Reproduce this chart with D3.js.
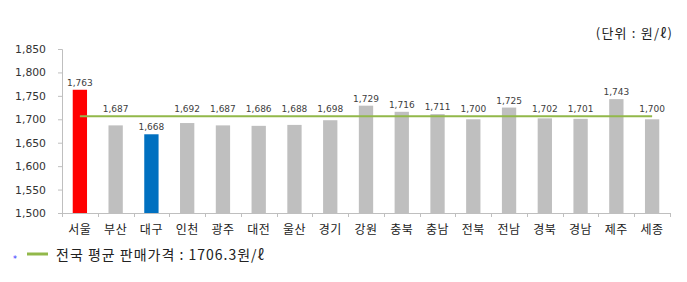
<html>
<head>
<meta charset="utf-8">
<style>
  body { margin: 0; background: #fff; }
  svg { display: block; }
  .tick text { font-family: "DejaVu Sans", sans-serif; }
</style>
</head>
<body>
<script src="https://d3js.org/d3.v7.min.js"></script>
<svg></svg>
<script>
// 지역별 판매가격 (원/ℓ)
var regions = ["서울","부산","대구","인천","광주","대전","울산","경기","강원","충북","충남","전북","전남","경북","경남","제주","세종"];
var prices  = [1763, 1687, 1668, 1692, 1687, 1686, 1688, 1698, 1729, 1716, 1711, 1700, 1725, 1702, 1701, 1743, 1700];
var average = 1706.3;
var yTicks  = [1500, 1550, 1600, 1650, 1700, 1750, 1800, 1850];
var highlight = { "서울": "#ff0000", "대구": "#0070c0" };

var W = 687, H = 282;
var plotL = 62, plotR = 670, plotT = 49, plotB = 213;

var svg = d3.select("svg").attr("width", W).attr("height", H);

var x = d3.scaleBand().domain(regions).range([plotL, plotR])
    .paddingInner(0.6).paddingOuter(0.3);
var y = d3.scaleLinear().domain([1500, 1850]).range([plotB, plotT]);

// y axis
var yAxis = svg.append("g")
    .attr("transform", "translate(" + plotL + ",0)")
    .call(d3.axisLeft(y).tickValues(yTicks).tickSize(4).tickPadding(12)
        .tickFormat(d3.format(",")));
yAxis.select(".domain").attr("stroke", "#bfbfbf");
yAxis.selectAll(".tick line").attr("stroke", "#bfbfbf");
yAxis.selectAll(".tick text").attr("font-size", 10.8).attr("fill", "#333");

// x axis baseline + boundary ticks
var gap = x.step() - x.bandwidth();
svg.append("line").attr("x1", plotL).attr("x2", plotR)
    .attr("y1", plotB + 0.5).attr("y2", plotB + 0.5).attr("stroke", "#bfbfbf");
var bounds = regions.map(function(d){ return x(d) - gap / 2; }).concat([plotR]);
svg.selectAll(".xtick").data(bounds).enter().append("line")
    .attr("class", "xtick")
    .attr("x1", function(d){ return Math.round(d) + 0.5; })
    .attr("x2", function(d){ return Math.round(d) + 0.5; })
    .attr("y1", plotB).attr("y2", plotB + 4).attr("stroke", "#bfbfbf");

svg.selectAll(".xlab").data(regions).enter().append("text")
    .attr("class", "xlab")
    .attr("x", function(d){ return x(d) + x.bandwidth() / 2; })
    .attr("y", 234)
    .attr("text-anchor", "middle")
    .attr("font-family", "'Noto Sans CJK KR', sans-serif")
    .attr("font-size", 12)
    .attr("letter-spacing", 0.5)
    .attr("fill", "#222")
    .text(function(d){ return d; });

// bars
svg.selectAll(".bar").data(prices).enter().append("rect")
    .attr("class", "bar")
    .attr("x", function(d, i){ return x(regions[i]); })
    .attr("width", x.bandwidth())
    .attr("y", function(d){ return y(d); })
    .attr("height", function(d){ return plotB - y(d); })
    .attr("fill", function(d, i){ return highlight[regions[i]] || "#bfbfbf"; });

// average line
var avgY = y(average);
svg.append("line")
    .attr("x1", x(regions[0]) + x.bandwidth() / 2)
    .attr("x2", x(regions[regions.length - 1]) + x.bandwidth() / 2)
    .attr("y1", avgY).attr("y2", avgY)
    .attr("stroke", "#92b84a").attr("stroke-width", 2);

// value labels (pushed above the average line when they would cross it)
svg.selectAll(".vlab").data(prices).enter().append("text")
    .attr("class", "vlab")
    .attr("x", function(d, i){ return x(regions[i]) + x.bandwidth() / 2; })
    .attr("y", function(d){
        var c = y(d) - 7;
        if (c > avgY - 7 && c < avgY + 7) c = avgY - 7;
        return c;
    })
    .attr("dy", "0.35em")
    .attr("text-anchor", "middle")
    .attr("font-family", "'DejaVu Sans', sans-serif")
    .attr("font-size", 9)
    .attr("fill", "#404040")
    .text(d3.format(","));

// unit
svg.append("text")
    .attr("x", 673).attr("y", 33).attr("dy", "0.35em")
    .attr("text-anchor", "end")
    .attr("font-family", "'Noto Sans CJK KR', sans-serif")
    .attr("font-size", 13)
    .attr("letter-spacing", 1.2)
    .attr("fill", "#222")
    .text("(단위 : 원/ℓ)");

// legend
svg.append("text")
    .attr("x", 15).attr("y", 262).attr("text-anchor", "middle")
    .attr("font-family", "'DejaVu Sans', sans-serif")
    .attr("font-size", 8).attr("fill", "#3333ff")
    .text("*");
svg.append("line").attr("x1", 27).attr("x2", 48).attr("y1", 254).attr("y2", 254)
    .attr("stroke", "#92b84a").attr("stroke-width", 3);
svg.append("text")
    .attr("x", 56).attr("y", 255).attr("dy", "0.35em")
    .attr("font-family", "'Noto Sans CJK KR', sans-serif")
    .attr("font-size", 14)
    .attr("letter-spacing", 1)
    .attr("fill", "#222")
    .text("전국 평균 판매가격 : " + average + "원/ℓ");
</script>
</body>
</html>
